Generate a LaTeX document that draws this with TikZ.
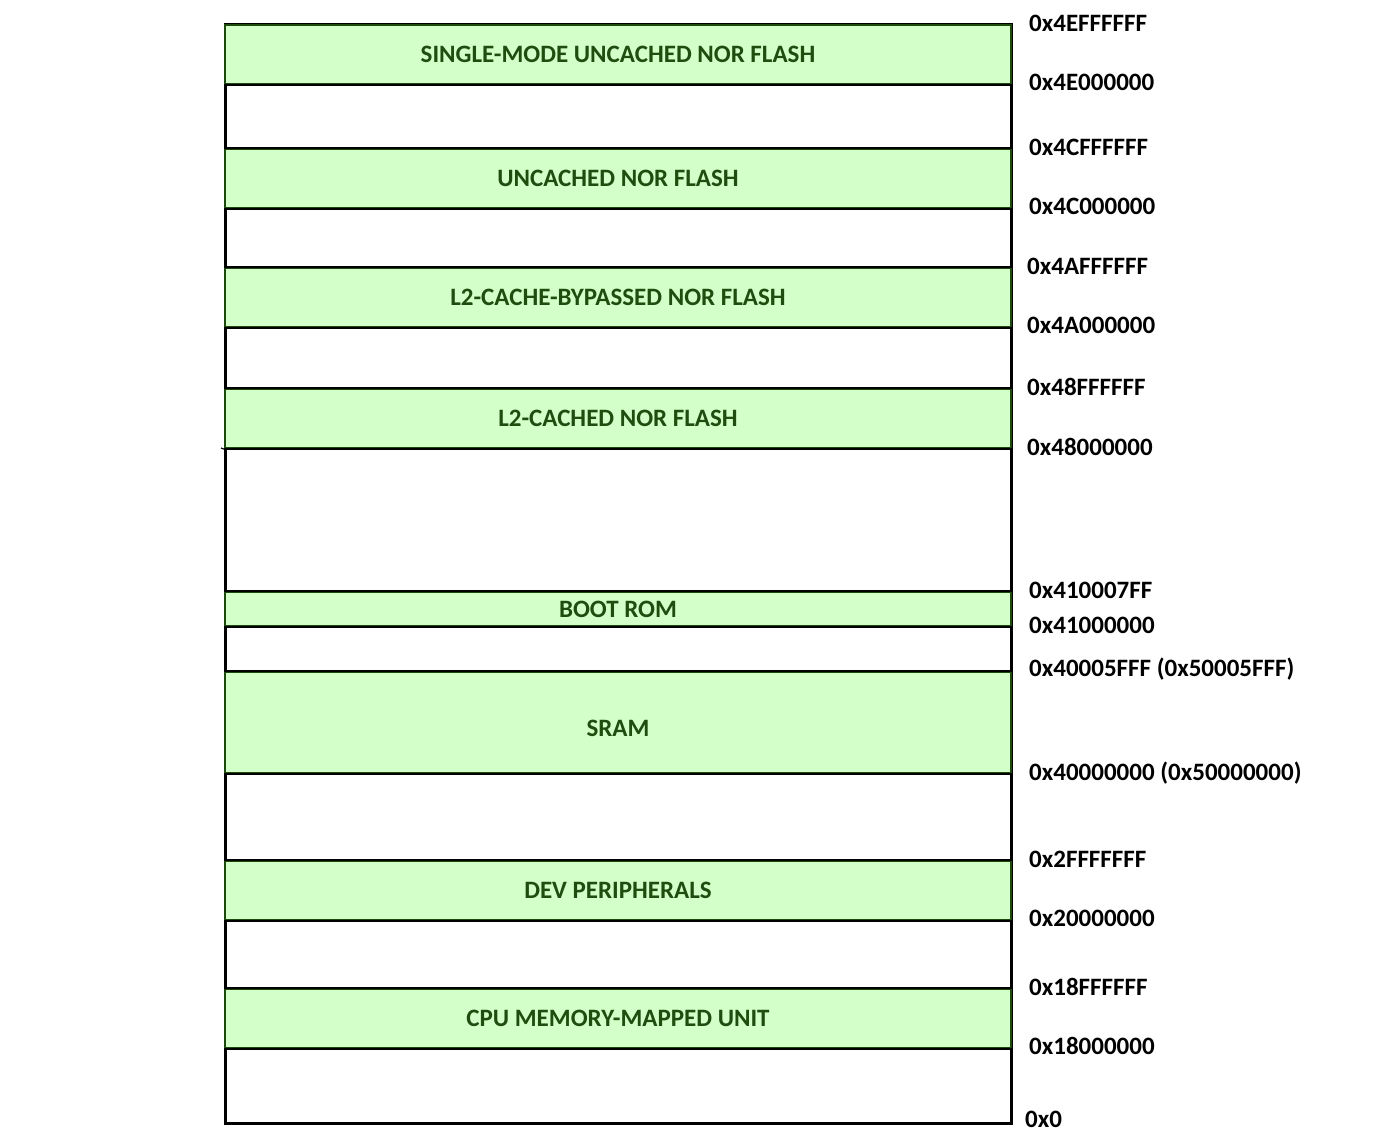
\documentclass[tikz,border=0pt]{standalone}
\usepackage{fontspec}
\setmainfont{Carlito}
\definecolor{bandfill}{HTML}{D3FFC8}
\definecolor{bandline}{HTML}{1B4A0C}
\definecolor{bandtext}{HTML}{1E4D10}
\begin{document}
\begin{tikzpicture}[x=1pt,y=-1pt,
  bandfont/.style={font=\fontsize{25}{27}\selectfont\bfseries, text=bandtext},
  band/.style={draw=bandline, line width=2.2pt, fill=bandfill, minimum width=786pt, inner sep=0pt, bandfont},
  addr/.style={anchor=west, inner sep=0pt, font=\fontsize{25}{27}\selectfont\bfseries, text=black},
  sep/.style={draw=black, line width=2pt}]
\useasboundingbox (0,0) rectangle (1399,1142);
\fill[white] (0,0) rectangle (1399,1142);
% outer frame
\node[draw=black, line width=3pt, minimum width=786pt, minimum height=1098pt, inner sep=0pt] (frame) at (618,574) {};
% bands
\node[band, minimum height=59pt] (b1) at (618,54.5) {SINGLE-MODE UNCACHED NOR FLASH};
\node[band, minimum height=59pt] (b2) at (618,178.5) {UNCACHED NOR FLASH};
\node[band, minimum height=59pt] (b3) at (618,297.5) {L2-CACHE-BYPASSED NOR FLASH};
\node[band, minimum height=59pt] (b4) at (618,418.5) {L2-CACHED NOR FLASH};
\node[band, minimum height=34pt] (b5) at (618,609) {BOOT ROM};
\node[band, minimum height=101pt] (b6) at (618,722.5) {};
\node[bandfont, inner sep=0pt] (sramlbl) at (618,728) {SRAM};
\node[band, minimum height=59pt] (b7) at (618,890.5) {DEV PERIPHERALS};
\node[band, minimum height=59pt] (b8) at (618,1018.5) {CPU MEMORY-MAPPED UNIT};
% black separators
\foreach \b in {b1,b2,b3,b4,b5,b6,b7,b8}{
  \draw[sep] (\b.south west) -- (\b.south east);
}
\foreach \b in {b2,b3,b4,b5,b6,b7,b8}{
  \draw[sep] (\b.north west) -- (\b.north east);
}
\coordinate (tick) at (221,448);
\draw[line width=1.2pt] (tick) -- (b4.south west);
% addresses
\node[addr] (a1) at (1029,23) {0x4EFFFFFF};
\node[addr] (a2) at (1029,82) {0x4E000000};
\node[addr] (a3) at (1029,147) {0x4CFFFFFF};
\node[addr] (a4) at (1029,206) {0x4C000000};
\node[addr] (a5) at (1027,266) {0x4AFFFFFF};
\node[addr] (a6) at (1027,325) {0x4A000000};
\node[addr] (a7) at (1027,387) {0x48FFFFFF};
\node[addr] (a8) at (1027,447) {0x48000000};
\node[addr] (a9) at (1029,590) {0x410007FF};
\node[addr] (a10) at (1029,625) {0x41000000};
\node[addr] (a11) at (1029,669) {0x40005FFF (0x50005FFF)};
\node[addr] (a12) at (1029,773) {0x40000000 (0x50000000)};
\node[addr] (a13) at (1029,859) {0x2FFFFFFF};
\node[addr] (a14) at (1029,918) {0x20000000};
\node[addr] (a15) at (1029,987) {0x18FFFFFF};
\node[addr] (a16) at (1029,1046) {0x18000000};
\node[addr] (a17) at (1025,1119) {0x0};
\end{tikzpicture}
\end{document}
